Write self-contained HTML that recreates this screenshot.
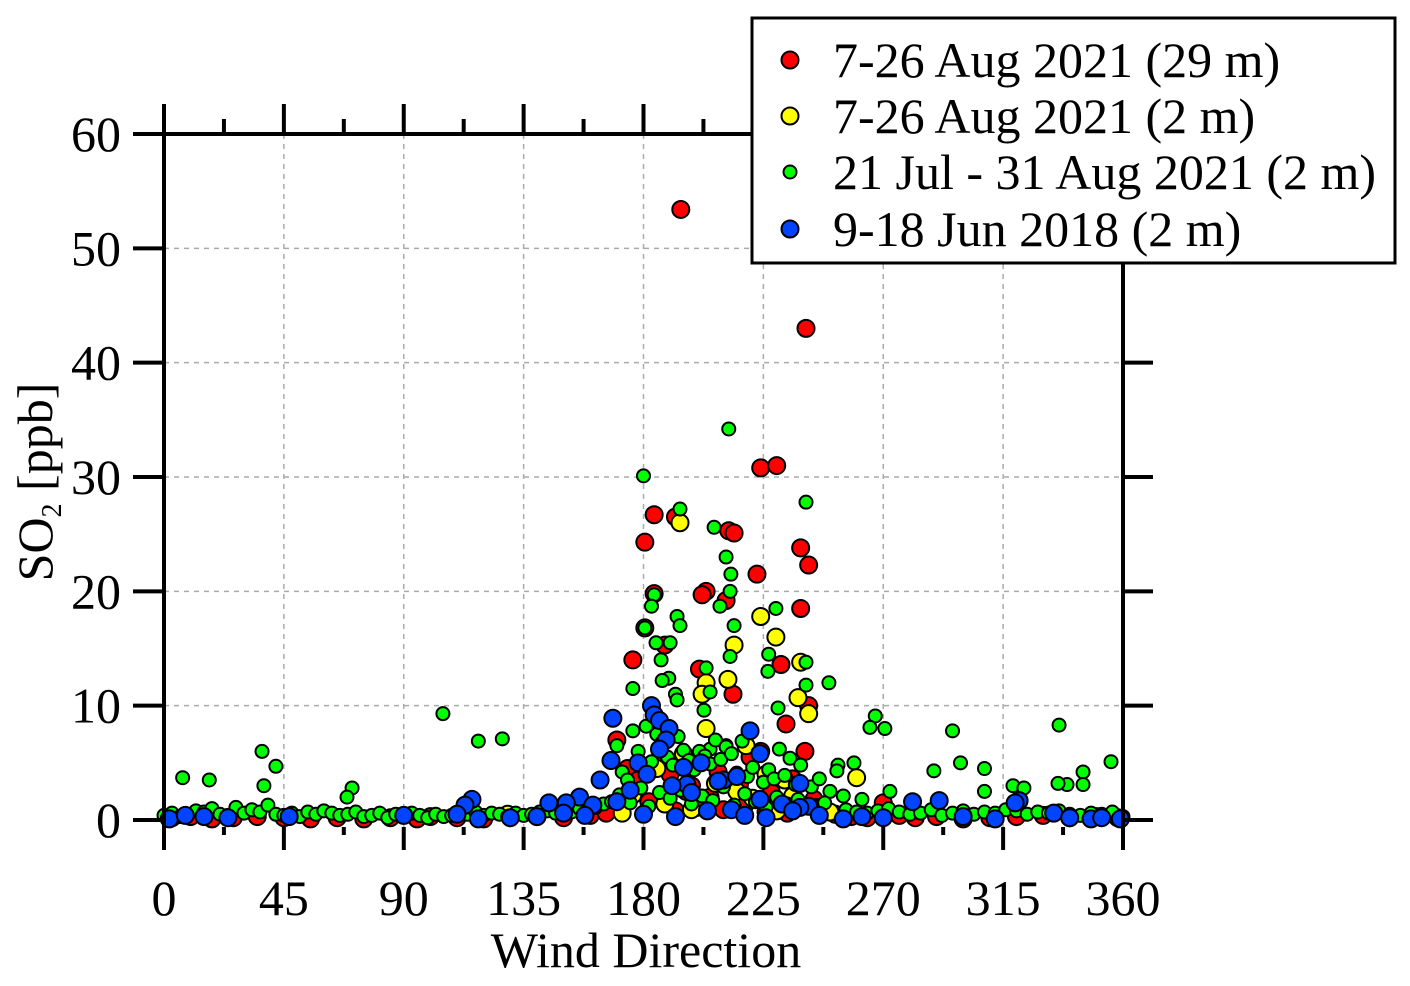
<!DOCTYPE html>
<html><head><meta charset="utf-8"><style>
html,body{margin:0;padding:0;background:#fff;}
svg{display:block;font-family:"Liberation Serif",serif;}
</style></head><body>
<svg id="chart" width="1410" height="986" viewBox="0 0 1410 986" xmlns="http://www.w3.org/2000/svg">
<g id="grid"></g>
<g id="marks"></g>
<g id="axes"></g>
<text x="646" y="967" font-size="50" text-anchor="middle">Wind Direction</text>
<text transform="translate(52,482) rotate(-90)" font-size="50" text-anchor="middle">SO<tspan font-size="28" dy="9">2</tspan><tspan dy="-9">  [ppb]</tspan></text>
<g>
<rect x="752" y="18" width="643" height="245" fill="#fff" stroke="#000" stroke-width="3"/>
<circle cx="790" cy="60" r="8.5" fill="#ff0000" stroke="#000" stroke-width="2"/>
<text x="833" y="77" font-size="50">7-26 Aug 2021 (29 m)</text>
<circle cx="790" cy="116" r="8.5" fill="#ffff00" stroke="#000" stroke-width="2"/>
<text x="833" y="133" font-size="50">7-26 Aug 2021 (2 m)</text>
<circle cx="790" cy="172" r="6.5" fill="#00ff00" stroke="#000" stroke-width="2"/>
<text x="833" y="189" font-size="50">21 Jul - 31 Aug 2021 (2 m)</text>
<circle cx="790" cy="229" r="8.5" fill="#0044ff" stroke="#000" stroke-width="2"/>
<text x="833" y="246" font-size="50">9-18 Jun 2018 (2 m)</text>
</g>
</svg>
<script>
const xTicks=[0,45,90,135,180,225,270,315,360];
const yTicks=[0,10,20,30,40,50,60];
// 7-26 Aug 2021 (29 m)
const redDir=[194,241,224,230,184,180.5,192,212,214,239,242,222.6,184,203.5,202,211,239,188,176,231.6,201,213.6,242,233.5,170,240.6,224,220,174,178,186,190,196,198,205,208,216,228,236,244,172,182,192,200,210,218,226,234,248,3,10,18,26,35,45,55,65,75,85,95,100,110,120,140,150,160,166,252,258,264,270,276,282,290,300,310,320,330,340,350,358];
const redVal=[53.4,43,30.8,31,26.7,24.3,26.5,25.3,25.1,23.8,22.3,21.5,19.8,20,19.7,19.2,18.5,15.3,14,13.6,13.2,11,10,8.4,7,6,6,5.5,4.5,3.5,5.2,4,2.5,3,2,4.2,3.1,2.4,3.6,1.8,1.2,1.6,0.8,1.1,0.9,1.3,0.7,0.6,0.8,0.2,0.3,0.1,0.2,0.3,0.2,0.1,0.2,0.1,0.2,0.1,0.3,0.2,0.1,0.3,0.2,0.4,0.6,0.5,0.3,0.2,1.5,0.4,0.2,0.3,0.1,0.2,0.3,0.4,0.2,0.3,0.2];
// 7-26 Aug 2021 (2 m)
const yelDir=[193.7,180.5,224,229.7,214,239,211.7,203.5,202,238,242,203.5,218.5,260,226,129,185,195,207,215,221,233,176,188,198,245,250,172,230,236];
const yelVal=[26,16.8,17.8,16,15.3,13.8,12.3,12,11,10.7,9.3,8,6.5,3.7,4,0.5,4.5,5.8,3.2,2.5,1.9,3.5,2.2,1.4,0.9,1.1,0.7,0.6,0.8,2.1];
// 21 Jul - 31 Aug 2021 (2 m)
const grnDir=[212,180,241,193.7,206.5,211,212.8,212.5,184,208.7,183,229.7,192.6,193.7,214,180.5,184.7,190,212.5,227,186.6,241,203.5,226.7,189.5,187,249.6,241,176,205,192,192.6,230.5,202.7,104.7,267,265,270.6,336,296,127,118,36.8,299,355.5,42,308,289,345,7,17,345,339,37.5,70.6,68.7,335.6,318.7,322.8,272.5,308,253,259,252.6,211,205,
170,172,174,176,178,181,183,185,187,189,191,193,195,197,199,201,203,205,207,209,211,213,215,217,219,221,223,225,227,229,231,233,235,237,239,243,246,250,255,262,
171,175,179,182,186,190,194,198,202,206,210,214,218,222,226,230,234,238,244,248,
0,3,6,9,12,15,18,21,24,27,30,33,36,39,42,45,48,51,54,57,60,63,66,69,72,75,78,81,84,87,90,93,96,99,102,105,108,111,114,117,120,123,126,129,132,135,138,141,144,147,150,153,156,159,162,165,168,256,260,264,268,272,276,280,284,288,292,296,300,304,308,312,316,320,324,328,332,336,340,344,348,352,356,360];
const grnVal=[34.2,30.1,27.8,27.2,25.6,23,21.5,20,19.7,18.7,18.7,18.5,17.8,17,17,16.8,15.5,15.5,14.3,14.5,14,13.8,13.3,13,12.4,12.2,12,11.8,11.5,11.2,11,10.5,9.8,9.6,9.3,9.1,8.1,8,8.3,7.8,7.1,6.9,6,5,5.1,4.7,4.5,4.3,4.2,3.7,3.5,3.1,3.1,3,2.8,2,3.2,3,2.8,2.5,2.5,4.8,5,4.3,6.5,6.2,
6.5,4.2,3.5,7.8,6,8.2,5.1,7.5,6.8,5.5,4.8,7.3,6.1,5.2,4.4,6,5.6,4.9,7,5.3,6.4,5.8,4.1,6.9,3.8,4.6,5.9,3.3,4.4,3.6,6.2,3.9,5.4,3.1,4.8,2.9,3.6,2.5,2.1,1.8,
2.2,1.5,2.8,1.2,2.4,1.9,2.6,1.4,2.1,1.7,2.9,1.3,2.3,1.6,1.1,2,1.4,1.8,1.2,1.5,
0.4,0.6,0.3,0.5,0.8,0.7,1,0.5,0.4,1.1,0.6,0.9,0.7,1.3,0.5,0.4,0.6,0.3,0.7,0.5,0.8,0.6,0.4,0.5,0.7,0.3,0.4,0.6,0.2,0.5,0.3,0.6,0.4,0.2,0.5,0.3,0.4,0.6,0.5,0.7,0.4,0.6,0.5,0.3,0.6,0.4,0.5,0.7,0.8,0.6,0.9,0.7,1,0.8,1.1,1.4,1.6,0.9,0.7,0.6,0.8,1,0.7,0.5,0.6,0.9,0.4,0.6,0.8,0.5,0.7,0.6,0.9,0.8,0.5,0.7,0.6,0.8,0.5,0.4,0.6,0.5,0.7,0.3];
// 9-18 Jun 2018 (2 m)
const bluDir=[168.5,183,184,186,189.6,220,188.5,186,223.7,167.8,178,201.6,195,181.3,163.7,210,215,196.3,238.7,190.7,321,319.5,281,291,115.6,113,144.5,156,151,161,242,223.7,238.7,334,
2,8,15,24,47,90,110,118,130,140,150,158,170,175,180,192,198,204,208,213,218,226,232,236,246,255,262,270,300,312,340,348,352,359];
const bluVal=[8.9,10,9.2,8.7,8,7.8,7,6.2,5.8,5.2,5,5,4.6,4,3.5,3.5,3.8,3.1,3.2,3,1.7,1.5,1.6,1.7,1.8,1.3,1.5,2,1.5,1.3,1.2,1.8,1.1,0.6,
0.1,0.4,0.3,0.2,0.3,0.4,0.5,0.1,0.2,0.3,0.6,0.4,1.6,2.6,0.5,0.3,2.4,0.8,3.4,0.9,0.4,0.2,1.4,0.8,0.4,0.1,0.3,0.2,0.3,0.1,0.2,0.1,0.2,0.1];

const NS='http://www.w3.org/2000/svg';
const X0=164,X1=1123,Y0=820,Y1=134;
function xs(d){return X0+(X1-X0)*d/360;}
function ys(v){return Y0-(Y0-Y1)*v/60;}
function mk(tag,attrs,parent){const e=document.createElementNS(NS,tag);for(const k in attrs)e.setAttribute(k,attrs[k]);parent.appendChild(e);return e;}
const grid=document.getElementById('grid'),marks=document.getElementById('marks'),axes=document.getElementById('axes');
xTicks.forEach(t=>{if(t>0&&t<360){const l=mk('line',{x1:xs(t),x2:xs(t),y1:Y1,y2:828,stroke:'#aaa','stroke-width':1.5,'stroke-dasharray':'5,5'},grid);

}});
yTicks.forEach(t=>{if(t>0&&t<60){const l=mk('line',{x1:X0,x2:X1,y1:ys(t),y2:ys(t),stroke:'#aaa','stroke-width':1.5,'stroke-dasharray':'5,5'},grid);

}});
function series(dirs,vals,fill,r,name){dirs.forEach((d,i)=>{const c=mk('circle',{cx:xs(d),cy:ys(vals[i]),r:r,fill:fill,stroke:'#000','stroke-width':2},marks);

});}
series(redDir,redVal,'#ff0000',8.5,'point-red-29m');
series(yelDir,yelVal,'#ffff00',8.5,'point-yellow-2m');
series(grnDir,grnVal,'#00ff00',6.5,'point-green-2m');
series(bluDir,bluVal,'#0044ff',8.5,'point-blue-2018');
const S={stroke:'#000','stroke-width':4};
mk('line',Object.assign({x1:X0,x2:X0,y1:104,y2:850},S),axes);
mk('line',Object.assign({x1:X1,x2:X1,y1:104,y2:850},S),axes);
mk('line',Object.assign({x1:X0-2,x2:X1+2,y1:Y1,y2:Y1},S),axes);
for(let i=0;i<16;i++){const d=i*22.5,maj=i%2===0;
mk('line',Object.assign({x1:xs(d),x2:xs(d),y1:Y1,y2:maj?104:119},S),axes);
mk('line',Object.assign({x1:xs(d),x2:xs(d),y1:827,y2:maj?850:835},S),axes);}
mk('line',Object.assign({x1:xs(360),x2:xs(360),y1:827,y2:850},S),axes);
yTicks.forEach(t=>{mk('line',Object.assign({x1:133,x2:X0,y1:ys(t),y2:ys(t)},S),axes);
mk('line',Object.assign({x1:X1,x2:1153,y1:ys(t),y2:ys(t)},S),axes);
const tx=mk('text',{x:121,y:ys(t)+17,'font-size':50,'text-anchor':'end'},axes);tx.textContent=t;

});
xTicks.forEach(t=>{const tx=mk('text',{x:xs(t),y:915,'font-size':50,'text-anchor':'middle'},axes);tx.textContent=t;

});
</script>
</body></html>
